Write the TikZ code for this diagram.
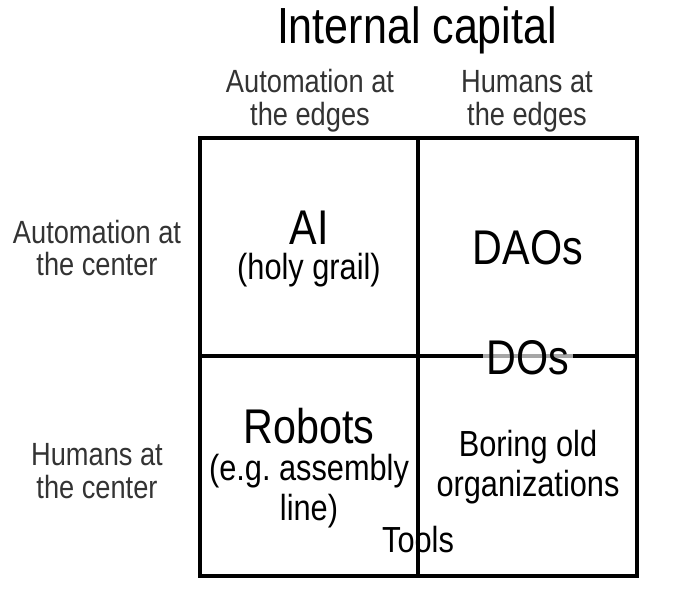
\documentclass[tikz,border=0pt]{standalone}
\usepackage{fontspec}
\setmainfont{Liberation Sans}
\usetikzlibrary{positioning}
\begin{document}
\begin{tikzpicture}[x=0.02cm, y=-0.02cm,
            every node/.style = {draw      = none,
                                inner sep = 0pt,
                                outer sep = 0pt,
                                align     = center,
                                yscale    = 1.18,
                                transform shape},
            grid/.style       = {line width = 2.2pt},
            axis/.style       = {font = \fontsize{15.5}{15.8}\selectfont,
                                text = black!80},
            title/.style      = {font = \fontsize{24.5}{28}\selectfont},
            big/.style        = {font = \fontsize{23.5}{28}\selectfont},
            small/.style      = {font = \fontsize{17.5}{19.2}\selectfont}
            ]
            \useasboundingbox (0,0) rectangle (680,602);

            \path (200,138) coordinate (nw)
                  (637,576) coordinate (se)
                  (418,138) coordinate (n)
                  (418,576) coordinate (s)
                  (200,356) coordinate (w)
                  (637,356) coordinate (e);

                \draw [grid]  (nw) rectangle (se);
                \draw [grid]  (n) -- (s)
                              (w) -- (e);

                \node [title] (capital) at (417,30)  {Internal capital};
                \node [axis]  (autoedge) at (310,101) {Automation at\\the edges};
                \node [axis]  (humedge)  at (527,101) {Humans at\\the edges};
                \node [axis]  (autocent) at (97,248)  {Automation at\\the center};
                \node [axis]  (humcent)  at (97,471)  {Humans at\\the center};

                \node [big]   (ai)     at (309,228) {AI};
                \node [small] (grail)  at (309,270) {(holy grail)};
                \node [big]   (daos)   at (528,248) {DAOs};
                \node [big,
                       fill         = white,
                       fill opacity = 0.65,
                       text opacity = 1,
                       inner xsep   = 2pt] (dos) at (528,358) {DOs};
                \node [big]   (robots) at (309,426) {Robots};
                \node [small] (line)   at (309,491) {(e.g.\ assembly\\line)};
                \node [small] (boring) at (528,467) {Boring old\\organizations};
                \node [small] (tools)  at (418,540) {Tools};
\end{tikzpicture}
\end{document}
